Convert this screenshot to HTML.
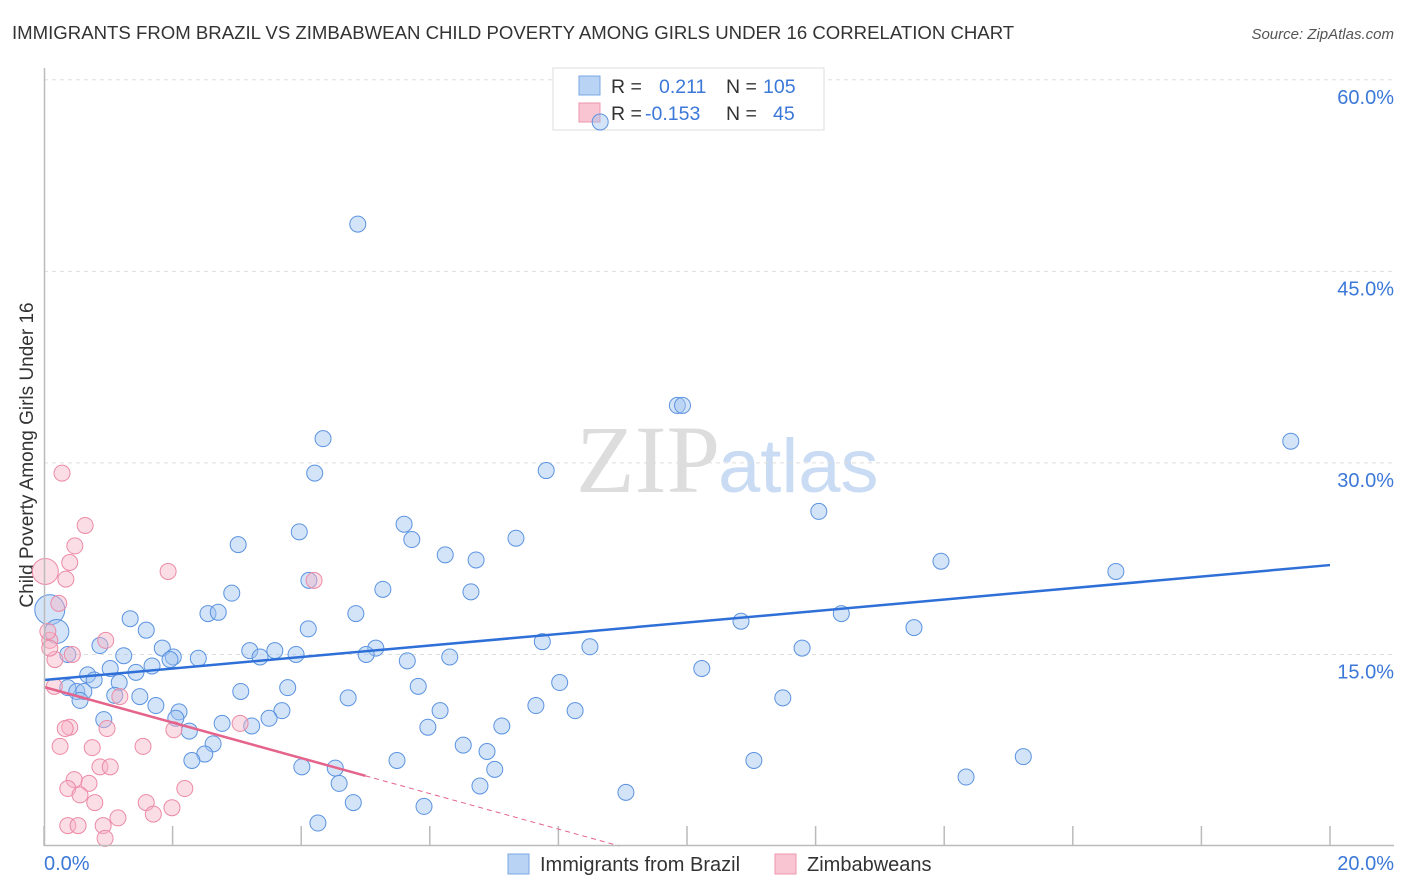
<!DOCTYPE html>
<html><head><meta charset="utf-8"><style>
body{margin:0;background:#fff;font-family:"Liberation Sans",sans-serif;}
#wrap{position:relative;width:1406px;height:892px;overflow:hidden;}
</style></head><body>
<div id="wrap">
<svg id="chart" width="1406" height="892">
<text x="12" y="39" font-size="18.6" fill="#333">IMMIGRANTS FROM BRAZIL VS ZIMBABWEAN CHILD POVERTY AMONG GIRLS UNDER 16 CORRELATION CHART</text>
<text x="1394" y="39" font-size="15" fill="#555" font-style="italic" text-anchor="end">Source: ZipAtlas.com</text>
<text x="720" y="492" font-size="96" fill="#ddd" text-anchor="end" font-family="Liberation Serif,serif">ZIP</text>
<text x="718" y="492" font-size="76" fill="#c9dcf3">atlas</text>
<text transform="translate(33,455) rotate(-90)" font-size="19" fill="#333" text-anchor="middle">Child Poverty Among Girls Under 16</text>
<g id="grid"></g>
<g>
<rect x="553" y="68" width="271" height="62" fill="#fff" stroke="#ddd"/>
<rect x="579" y="76" width="21" height="19" fill="#b9d3f5" stroke="#7aa7e6"/>
<rect x="579" y="103" width="21" height="19" fill="#f9c5d3" stroke="#ee94ad"/>
<text x="611" y="93" font-size="19.5" fill="#333">R =</text><text x="659" y="93" font-size="19.5" fill="#3b78d8">0.211</text>
<text x="726" y="93" font-size="19.5" fill="#333">N =</text><text x="763" y="93" font-size="19.5" fill="#3b78d8">105</text>
<text x="611" y="120" font-size="19.5" fill="#333">R =</text><text x="645" y="120" font-size="19.5" fill="#3b78d8">-0.153</text>
<text x="726" y="120" font-size="19.5" fill="#333">N =</text><text x="773" y="120" font-size="19.5" fill="#3b78d8">45</text>
</g>
<g id="pts"></g><g id="lines"></g>
<line x1="44.5" y1="68" x2="44.5" y2="846" stroke="#bbb" stroke-width="1.5"/>
<line x1="44" y1="845.5" x2="1394" y2="845.5" stroke="#bbb" stroke-width="1.5"/>
<text x="44" y="870" font-size="20" fill="#3b78d8">0.0%</text>
<text x="1394" y="870" font-size="20" fill="#3b78d8" text-anchor="end">20.0%</text>
<g><rect x="508" y="854" width="21" height="20" fill="#b9d3f5" stroke="#7aa7e6"/><text x="540" y="871" font-size="20" fill="#333">Immigrants from Brazil</text></g>
<g><rect x="775" y="854" width="21" height="20" fill="#f9c5d3" stroke="#ee94ad"/><text x="807" y="871" font-size="20" fill="#333">Zimbabweans</text></g>
</svg></div>
<script>
const yTicks=[15,30,45,60];
const xTicks=[0,2,4,6,8,10,12,14,16,18,20];
const blueX=[8.65,4.88,9.85,9.93,4.34,19.39,7.81,4.21,12.05,5.60,3.97,7.34,3.02,5.72,6.24,6.72,13.95,16.67,4.12,5.27,6.64,2.92,4.85,2.55,2.71,12.40,10.84,1.34,13.53,1.59,4.11,0.87,7.75,8.49,1.84,11.79,5.16,3.20,3.59,5.01,3.92,2.01,2.40,3.36,6.31,0.37,1.24,1.96,5.65,1.68,1.03,10.23,0.68,1.43,0.78,1.17,8.02,5.82,3.79,3.06,0.37,0.51,0.62,1.10,1.49,11.49,4.73,0.56,7.65,1.74,3.70,8.26,6.16,2.10,3.50,0.93,2.05,2.77,7.12,5.97,2.26,3.23,2.63,6.52,6.89,2.50,2.30,5.49,11.04,15.23,4.01,4.53,7.01,14.34,4.59,6.78,9.05,4.81,5.91,4.26,0.09,0.20];
const blueY=[56.7,48.7,34.5,34.5,31.9,31.7,29.4,29.2,26.2,25.2,24.6,24.1,23.6,24.0,22.8,22.4,22.3,21.5,20.8,20.1,19.9,19.8,18.2,18.2,18.3,18.2,17.6,17.8,17.1,16.9,17.0,15.7,16.0,15.6,15.5,15.5,15.5,15.3,15.3,15.0,15.0,14.8,14.7,14.8,14.8,15.0,14.9,14.6,14.5,14.1,13.9,13.9,13.4,13.6,13.0,12.8,12.8,12.5,12.4,12.1,12.4,12.1,12.1,11.8,11.7,11.6,11.6,11.4,11.0,11.0,10.6,10.6,10.6,10.5,10.0,9.9,10.0,9.6,9.4,9.3,9.0,9.4,8.0,7.9,7.4,7.2,6.7,6.7,6.7,7.0,6.2,6.1,6.0,5.4,4.9,4.7,4.2,3.4,3.1,1.8,18.5,16.8];
const blueR=[8,8,8,8,8,8,8,8,8,8,8,8,8,8,8,8,8,8,8,8,8,8,8,8,8,8,8,8,8,8,8,8,8,8,8,8,8,8,8,8,8,8,8,8,8,8,8,8,8,8,8,8,8,8,8,8,8,8,8,8,8,8,8,8,8,8,8,8,8,8,8,8,8,8,8,8,8,8,8,8,8,8,8,8,8,8,8,8,8,8,8,8,8,8,8,8,8,8,8,8,15,12];
const pinkX=[0.02,0.28,0.64,0.48,0.40,0.34,1.93,4.20,0.23,0.96,0.09,0.17,0.44,0.06,0.09,0.16,0.40,0.33,3.05,2.02,0.98,1.18,0.25,0.75,1.54,0.87,1.03,0.47,0.70,2.19,0.37,0.56,0.79,1.59,1.99,1.70,1.15,0.37,0.53,0.92,0.95];
const pinkY=[21.5,29.2,25.1,23.5,22.2,20.9,21.5,20.8,19.0,16.1,16.1,14.6,15.0,16.8,15.5,12.5,9.3,9.2,9.6,9.1,9.2,11.7,7.8,7.7,7.8,6.2,6.2,5.2,4.9,4.5,4.5,4.0,3.4,3.4,3.0,2.5,2.2,1.6,1.6,1.6,0.6];
const pinkR=[13,8,8,8,8,8,8,8,8,8,8,8,8,8,8,8,8,8,8,8,8,8,8,8,8,8,8,8,8,8,8,8,8,8,8,8,8,8,8,8,8];
const blueTrend=[13.0,22.0];
const pinkTrend=[12.45,0];
const pinkZeroX=8.95;
const pinkSolidEnd=5.0;
const X=v=>44+v*64.3, Y=v=>846-v*12.77;
const NS='http://www.w3.org/2000/svg';
function mk(t,a,p){const e=document.createElementNS(NS,t);for(const k in a)e.setAttribute(k,a[k]);p.appendChild(e);return e;}
const grid=document.getElementById('grid'),pts=document.getElementById('pts'),lines=document.getElementById('lines'),svg=document.getElementById('chart');
yTicks.forEach(v=>{
 const l=mk('line',{x1:44,x2:1394,y1:Y(v),y2:Y(v),stroke:'#ddd','stroke-dasharray':'4,4'},grid);
 
 
 const t=mk('text',{x:1394,y:Y(v)+24,'font-size':20,fill:'#3b78d8','text-anchor':'end'},svg);
 t.textContent=v.toFixed(1)+'%';
 
 
});
xTicks.forEach(v=>{
 const l=mk('line',{x1:X(v),x2:X(v),y1:826,y2:846,stroke:'#bbb','stroke-width':1.5},grid);
 
 
});
blueX.forEach((v,i)=>{
 const c=mk('circle',{cx:X(v),cy:Y(blueY[i]),r:blueR[i],fill:'rgba(160,196,240,0.45)',stroke:'#5b93e0','stroke-width':1},pts);
 
 
});
pinkX.forEach((v,i)=>{
 const c=mk('circle',{cx:X(v),cy:Y(pinkY[i]),r:pinkR[i],fill:'rgba(246,180,198,0.45)',stroke:'#ec8aa6','stroke-width':1},pts);
 
 
});
const bl=mk('line',{x1:X(0),y1:Y(blueTrend[0]),x2:X(20),y2:Y(blueTrend[1]),stroke:'#2e6fd8','stroke-width':2.5},lines);


const pinkAt=x=>pinkTrend[0]+(pinkTrend[1]-pinkTrend[0])*x/pinkZeroX;
const pl=mk('line',{x1:X(0),y1:Y(pinkAt(0)),x2:X(pinkSolidEnd),y2:Y(pinkAt(pinkSolidEnd)),stroke:'#e4648c','stroke-width':2.5},lines);


const pd=mk('line',{x1:X(pinkSolidEnd),y1:Y(pinkAt(pinkSolidEnd)),x2:X(pinkZeroX),y2:Y(pinkAt(pinkZeroX)),stroke:'#e4648c','stroke-width':1,'stroke-dasharray':'5,4'},lines);


</script>
</body></html>
